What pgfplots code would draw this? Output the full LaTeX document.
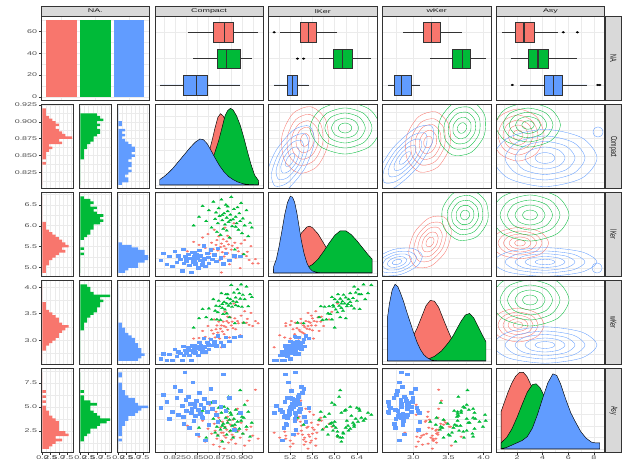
\documentclass[border=0pt]{standalone}
\usepackage{pgfplots}
\pgfplotsset{compat=1.18}
\usepackage{pgfplotstable}
\usepgfplotslibrary{statistics}
\usepackage{fontspec}
\newfontfamily\ggf{Liberation Sans}[FakeStretch=1.65]
\newfontfamily\ggr{Liberation Sans}[FakeStretch=0.6]
\newcommand\tickf{\ggf\fontsize{5.4}{6}\selectfont}
\newcommand\rstripf{\ggr\fontsize{8.8}{9}\selectfont}
\definecolor{gRed}{HTML}{F8766D}
\definecolor{gGreen}{HTML}{00BA38}
\definecolor{gBlue}{HTML}{619CFF}
\definecolor{gBorder}{HTML}{333333}
\definecolor{gGrid}{HTML}{EBEBEB}
\definecolor{gStrip}{HTML}{D9D9D9}
\definecolor{gText}{HTML}{4D4D4D}
\definecolor{gStripText}{HTML}{1A1A1A}

\pgfplotstableread{
c L W a
0.839 5.40 2.86 3.10
0.846 5.62 3.04 4.20
0.852 5.55 3.05 2.00
0.856 5.72 3.18 3.60
0.859 5.48 3.07 1.50
0.862 5.80 3.27 2.80
0.864 5.35 3.04 5.20
0.866 5.60 3.19 2.30
0.868 5.45 3.13 1.20
0.869 5.90 3.39 3.30
0.870 5.30 3.06 2.60
0.871 5.55 3.21 4.50
0.872 5.66 3.28 1.80
0.873 5.42 3.15 2.20
0.874 5.75 3.35 3.90
0.875 5.20 3.04 1.00
0.876 5.50 3.22 2.90
0.877 5.58 3.28 1.60
0.878 5.38 3.17 3.50
0.879 5.68 3.35 2.40
0.880 5.52 3.27 0.80
0.880 5.28 3.12 2.10
0.881 5.95 3.53 3.00
0.882 5.46 3.25 1.90
0.883 5.63 3.36 2.70
0.884 5.36 3.20 4.00
0.885 5.56 3.33 1.40
0.886 5.10 3.06 2.50
0.887 5.70 3.43 3.20
0.888 5.44 3.28 1.70
0.889 5.53 3.35 2.20
0.890 5.32 3.23 3.70
0.891 6.05 3.68 2.00
0.892 5.60 3.41 2.90
0.893 5.25 3.21 1.30
0.895 5.48 3.36 4.80
0.896 5.40 3.32 2.60
0.898 5.01 3.10 1.90
0.899 5.58 3.46 3.40
0.901 5.34 3.33 2.30
0.903 5.66 3.54 1.10
0.905 5.29 3.33 2.70
0.906 5.39 3.40 5.61
0.908 5.20 3.29 1.60
0.910 5.52 3.51 3.00
0.912 5.12 3.27 2.10
0.915 5.22 3.36 6.71
0.918 5.12 3.32 1.80
0.877 4.91 2.88 2.40
0.884 5.76 3.44 3.60
}\tRed
\pgfplotstableread{
c L W a
0.846 6.00 3.24 3.50
0.852 6.20 3.41 2.90
0.856 6.45 3.58 4.60
0.860 6.10 3.43 1.90
0.863 6.35 3.59 3.20
0.866 5.95 3.39 5.40
0.868 6.55 3.76 3.80
0.870 6.15 3.55 2.40
0.871 6.30 3.64 4.10
0.872 5.85 3.39 3.00
0.873 6.05 3.52 2.10
0.874 6.40 3.73 4.90
0.875 6.22 3.63 3.60
0.876 5.78 3.38 2.70
0.877 6.60 3.87 4.40
0.878 6.12 3.60 1.50
0.879 5.92 3.49 3.30
0.880 6.28 3.71 5.00
0.881 6.02 3.57 2.90
0.882 6.48 3.85 3.90
0.883 6.18 3.68 4.60
0.883 5.88 3.50 2.20
0.884 6.33 3.78 3.40
0.885 6.08 3.64 6.00
0.886 5.72 3.43 3.70
0.887 6.25 3.76 2.60
0.888 6.66 4.02 4.20
0.889 5.98 3.62 3.10
0.890 6.14 3.72 1.90
0.891 6.38 3.88 3.80
0.892 5.44 3.32 3.20
0.893 6.20 3.79 4.70
0.894 6.05 3.71 2.50
0.895 6.42 3.94 3.50
0.896 5.90 3.63 4.30
0.897 6.28 3.87 2.80
0.898 6.10 3.77 6.66
0.899 6.52 4.03 3.60
0.900 5.82 3.62 4.00
0.901 6.16 3.84 2.30
0.902 5.33 3.33 3.90
0.903 6.00 3.76 5.20
0.905 6.35 3.99 3.00
0.907 5.75 3.63 4.50
0.909 6.06 3.85 2.00
0.911 5.95 3.80 3.40
0.884 6.44 3.85 4.80
0.878 6.24 3.67 3.10
0.887 6.12 3.68 4.40
0.893 5.97 3.65 2.60
}\tGreen
\pgfplotstableread{
c L W a
0.809 5.20 2.67 4.90
0.812 5.35 2.76 6.20
0.816 5.10 2.64 5.50
0.819 5.28 2.75 3.80
0.822 5.05 2.64 4.50
0.825 5.40 2.84 7.00
0.827 5.15 2.72 5.90
0.829 5.30 2.80 4.20
0.831 5.22 2.77 6.60
0.833 4.95 2.65 5.10
0.834 5.45 2.90 4.00
0.835 5.12 2.73 3.30
0.837 5.26 2.82 5.70
0.838 5.18 2.78 4.60
0.840 5.34 2.87 6.00
0.841 5.08 2.74 2.90
0.842 5.24 2.83 5.30
0.843 4.91 2.65 4.40
0.844 5.38 2.91 4.80
0.845 5.16 2.80 7.48
0.846 5.28 2.86 3.60
0.847 5.21 2.83 5.00
0.848 5.11 2.78 4.10
0.849 5.33 2.90 5.60
0.850 5.25 2.87 2.24
0.851 5.02 2.74 4.70
0.852 5.42 2.97 6.40
0.853 5.19 2.85 4.30
0.854 5.30 2.91 5.20
0.856 5.14 2.83 3.90
0.857 5.53 3.05 4.90
0.858 5.23 2.89 5.80
0.859 5.06 2.80 1.64
0.861 5.36 2.97 4.50
0.862 5.27 2.93 5.40
0.863 5.13 2.85 3.20
0.865 5.44 3.03 6.80
0.867 5.22 2.92 4.80
0.869 5.32 2.98 5.50
0.871 5.17 2.91 4.20
0.873 5.48 3.09 3.50
0.876 5.25 2.97 5.00
0.879 5.11 2.91 8.30
0.882 5.35 3.06 4.60
0.886 5.20 2.99 5.90
0.891 5.30 3.07 2.70
0.898 5.28 3.08 4.40
0.836 5.29 2.83 8.46
0.855 5.09 2.80 4.00
0.847 5.37 2.92 5.30
}\tBlue

% histogram counts (bin centre, red, green, blue)
\pgfplotstableread{
ctr r g b
0.8081 0 0 1
0.8119 0 0 3
0.8157 0 0 3
0.8195 0 0 2
0.8233 0 0 3
0.8271 0 0 4
0.8309 0 0 3
0.8347 0 0 4
0.8385 1 0 4
0.8423 0 0 3
0.8461 1 1 4
0.8499 1 1 5
0.8537 1 1 4
0.8575 2 1 5
0.8613 3 2 5
0.8651 2 2 4
0.8689 6 3 3
0.8727 5 4 2
0.8765 9 4 1
0.8803 7 5 2
0.8841 6 6 1
0.8879 5 6 2
0.8917 4 5 0
0.8955 5 6 1
0.8993 4 5 1
0.9031 3 7 0
0.9069 2 6 0
0.9107 1 5 0
0.9145 1 0 0
0.9183 1 0 0
}\hC
\pgfplotstableread{
ctr r g b
4.899 1 0 2
4.960 1 0 3
5.021 1 0 6
5.083 2 0 6
5.144 2 0 8
5.205 3 0 9
5.266 4 0 9
5.328 5 1 8
5.389 7 0 8
5.450 6 1 6
5.511 8 0 4
5.573 7 0 1
5.634 6 0 0
5.695 5 1 0
5.756 4 2 0
5.818 3 3 0
5.879 2 3 0
5.940 1 4 0
6.001 1 4 0
6.063 1 6 0
6.124 0 7 0
6.185 0 6 0
6.246 0 7 0
6.307 0 5 0
6.369 0 4 0
6.430 0 5 0
6.491 0 3 0
6.552 0 4 0
6.614 0 3 0
6.675 0 1 0
}\hL
\pgfplotstableread{
ctr r g b
2.630 0 0 6
2.678 0 0 7
2.727 0 0 8
2.775 0 0 7
2.824 1 0 7
2.872 1 0 6
2.920 2 0 6
2.969 3 0 5
3.017 4 0 5
3.065 5 0 4
3.114 5 0 3
3.162 6 0 2
3.211 7 1 2
3.259 8 1 1
3.307 6 1 1
3.356 5 2 0
3.404 5 2 0
3.452 4 3 0
3.501 3 4 0
3.549 2 5 0
3.597 1 5 0
3.646 1 6 0
3.694 1 6 0
3.743 0 7 0
3.791 0 6 0
3.839 0 9 0
3.888 0 4 0
3.936 0 3 0
3.984 0 3 0
4.033 0 2 0
}\hW
\pgfplotstableread{
ctr r g b
0.765 2 0 0
1.030 3 0 0
1.295 4 0 0
1.561 6 1 1
1.826 4 1 0
2.091 8 2 1
2.356 7 3 1
2.621 5 3 1
2.887 5 5 1
3.152 5 6 2
3.417 5 8 2
3.682 4 9 3
3.948 3 6 3
4.213 2 5 5
4.478 2 4 6
4.743 1 3 7
5.008 1 3 9
5.274 0 5 6
5.539 1 3 5
5.804 0 1 5
6.069 1 1 3
6.335 0 0 2
6.600 1 1 2
6.865 0 0 1
7.130 0 0 1
7.396 0 0 1
7.661 0 0 0
7.926 0 0 0
8.191 0 0 1
8.456 0 0 1
}\hA

\def\Ca{41}\def\Cb{154.8}\def\Cc{268.6}\def\Cd{382.4}\def\Ce{496.2}
\def\Ra{448.5}\def\Rb{360.5}\def\Rc{272.5}\def\Rd{184.5}\def\Re{96.5}

\pgfplotsset{
  gg/.style={scale only axis, anchor=north west, width=108.5pt, height=84.3pt,
    axis line style={draw=none},
    grid=both,
    major grid style={draw=gGrid, line width=0.6pt},
    minor grid style={draw=gGrid, line width=0.3pt},
    tickpos=left, ticklabel pos=left, tick align=outside,
    major tick length=2.2pt, minor tick length=0pt,
    xtick style={draw=none}, ytick style={draw=none},
    xticklabels={}, yticklabels={},
    ticklabel style={font=\tickf, text=gText},
    xticklabel style={inner sep=1pt},
    yticklabel style={inner sep=1.5pt},
    after end axis/.code={\draw[gBorder, line width=0.6pt] (rel axis cs:0,0) rectangle (rel axis cs:1,1);},
  },
  showx/.style={xtick style={draw=gBorder, line width=0.5pt}},
  showy/.style={ytick style={draw=gBorder, line width=0.5pt}},
  hsub/.style={width=32.5pt, xmin=-0.45, xmax=9.45, xtick={0,2.5,5,7.5}, minor xtick={1.25,3.75,6.25,8.75}},
  xC/.style={xmin=0.8026, xmax=0.9238, xtick={0.825,0.85,0.875,0.9}, minor xtick={0.8125,0.8375,0.8625,0.8875,0.9125}},
  yC/.style={ymin=0.8026, ymax=0.9238, ytick={0.825,0.85,0.875,0.9}, minor ytick={0.8125,0.8375,0.8625,0.8875,0.9125}},
  xL/.style={xmin=4.81, xmax=6.764, xtick={5.2,5.6,6.0,6.4}, minor xtick={5.0,5.4,5.8,6.2,6.6}},
  yL/.style={ymin=4.81, ymax=6.764, ytick={5,5.5,6,6.5}, minor ytick={5.25,5.75,6.25,6.75}},
  xW/.style={xmin=2.56, xmax=4.103, xtick={3,3.5,4}, minor xtick={2.75,3.25,3.75}},
  yW/.style={ymin=2.56, ymax=4.103, ytick={3,3.5,4}, minor ytick={2.75,3.25,3.75}},
  xA/.style={xmin=0.38, xmax=8.841, xtick={2,4,6,8}, minor xtick={1,3,5,7}},
  yA/.style={ymin=0.38, ymax=8.841, ytick={2.5,5,7.5}, minor ytick={1.25,3.75,6.25,8.75}},
  yCh/.style={ymin=0.8005, ymax=0.9259, ytick={0.825,0.85,0.875,0.9,0.925}, minor ytick={0.8125,0.8375,0.8625,0.8875,0.9125}},
  yLh/.style={ymin=4.776, ymax=6.798, ytick={5,5.5,6,6.5}, minor ytick={5.25,5.75,6.25,6.75}},
  yWh/.style={ymin=2.533, ymax=4.130, ytick={3,3.5,4}, minor ytick={2.75,3.25,3.75}},
  yAh/.style={ymin=0.234, ymax=8.987, ytick={2.5,5,7.5}, minor ytick={1.25,3.75,6.25,8.75}},
  yD/.style={ymin=-5, ymax=105, ytick={0,30,60,90}, minor ytick={15,45,75}},
  yB/.style={ymin=0.4, ymax=3.6, ytick={1,2,3}, boxplot/draw direction=x, boxplot/box extend=0.75, boxplot/whisker extend=0},
  bx/.style={draw=gBorder, line width=0.5pt, boxplot/every median/.style={line width=1.2pt}},
  outl/.style={only marks, mark=*, color=black, mark size=1.3pt, mark options={yscale=0.65}},
  pR/.style={only marks, mark=*, color=gRed, mark size=1.3pt, mark options={yscale=0.65}},
  pG/.style={only marks, mark=triangle*, color=gGreen, mark size=1.9pt, mark options={yscale=0.65}},
  pB/.style={only marks, mark=square*, color=gBlue, mark size=1.8pt, mark options={yscale=0.65}},
  dens/.style={draw=black, line width=0.45pt},
  cR/.style={gRed, line width=0.35pt, smooth cycle},
  cG/.style={gGreen, line width=0.35pt, smooth cycle},
  cB/.style={gBlue, line width=0.35pt, smooth cycle},
}

\begin{document}
\begin{tikzpicture}
\path[use as bounding box] (0,0) rectangle (622pt,465pt);

% ---------------- strips
\foreach \x/\t in {41/NA., 154.8/Compact, 268.6/lKer, 382.4/wKer, 496.2/Asy}{
  \draw[fill=gStrip, draw=gBorder, line width=0.6pt] (\x pt,448.5pt) rectangle ++(108.5pt,10.5pt);
  \node[font=\tickf, text=gStripText] at ({\x pt+54.25pt},453.9pt) {\t};
}
\foreach \y/\t in {448.5/NA., 360.5/Compact, 272.5/lKer, 184.5/wKer, 96.5/Asy}{
  \draw[fill=gStrip, draw=gBorder, line width=0.6pt] (605pt,\y pt) rectangle ++(16.7pt,-84.3pt);
  \node[font=\rstripf, text=gStripText, rotate=-90] at (613.4pt,{\y pt-42.15pt}) {\t};
}

% ---------------- row 1
\begin{axis}[gg, showy, at={(\Ca pt,\Ra pt)}, xmin=0.4, xmax=3.6, xtick={1,2,3},
  ymin=-3.5, ymax=73.5, ytick={0,20,40,60}, minor ytick={10,30,50,70}, yticklabels={0,20,40,60}]
\addplot[ybar, bar width=0.9, fill=gRed, draw=none] coordinates {(1,70)};
\addplot[ybar, bar width=0.9, fill=gGreen, draw=none] coordinates {(2,70)};
\addplot[ybar, bar width=0.9, fill=gBlue, draw=none] coordinates {(3,70)};
\end{axis}

\begin{axis}[gg, at={(\Cb pt,\Ra pt)}, xC, yB]
\addplot[bx, fill=gRed, boxplot prepared={draw position=3, lower whisker=0.8394, lower quartile=0.8684, median=0.8803, upper quartile=0.8903, upper whisker=0.9182}] coordinates {};
\addplot[bx, fill=gGreen, boxplot prepared={draw position=2, lower whisker=0.8456, lower quartile=0.8724, median=0.8829, upper quartile=0.8986, upper whisker=0.9109}] coordinates {};
\addplot[bx, fill=gBlue, boxplot prepared={draw position=1, lower whisker=0.8087, lower quartile=0.8341, median=0.8494, upper quartile=0.8617, upper whisker=0.8978}] coordinates {};
\end{axis}

\begin{axis}[gg, at={(\Cc pt,\Ra pt)}, xL, yB]
\addplot[bx, fill=gRed, boxplot prepared={draw position=3, lower whisker=5.01, lower quartile=5.38, median=5.53, upper quartile=5.67, upper whisker=6.05}] coordinates {};
\addplot[bx, fill=gGreen, boxplot prepared={draw position=2, lower whisker=5.72, lower quartile=5.97, median=6.14, upper quartile=6.31, upper whisker=6.66}] coordinates {};
\addplot[bx, fill=gBlue, boxplot prepared={draw position=1, lower whisker=4.91, lower quartile=5.14, median=5.24, upper quartile=5.33, upper whisker=5.53}] coordinates {};
\addplot[outl] coordinates {(4.91,3) (5.33,2) (5.44,2)};
\end{axis}

\begin{axis}[gg, at={(\Cd pt,\Ra pt)}, xW, yB]
\addplot[bx, fill=gRed, boxplot prepared={draw position=3, lower whisker=2.857, lower quartile=3.142, median=3.26, upper quartile=3.379, upper whisker=3.688}] coordinates {};
\addplot[bx, fill=gGreen, boxplot prepared={draw position=2, lower whisker=3.237, lower quartile=3.56, median=3.697, upper quartile=3.806, upper whisker=4.03}] coordinates {};
\addplot[bx, fill=gBlue, boxplot prepared={draw position=1, lower whisker=2.644, lower quartile=2.729, median=2.835, upper quartile=2.967, upper whisker=3.095}] coordinates {};
\end{axis}

\begin{axis}[gg, at={(\Ce pt,\Ra pt)}, xA, yB]
\addplot[bx, fill=gRed, boxplot prepared={draw position=3, lower whisker=0.81, lower quartile=1.85, median=2.55, upper quartile=3.33, upper whisker=5.18}] coordinates {};
\addplot[bx, fill=gGreen, boxplot prepared={draw position=2, lower whisker=1.51, lower quartile=2.88, median=3.64, upper quartile=4.44, upper whisker=6.66}] coordinates {};
\addplot[bx, fill=gBlue, boxplot prepared={draw position=1, lower whisker=2.24, lower quartile=4.11, median=4.83, upper quartile=5.54, upper whisker=7.48}] coordinates {};
\addplot[outl] coordinates {(5.61,3) (6.71,3) (1.64,1) (8.30,1) (8.46,1)};
\end{axis}

% ---------------- column 1 histograms
\begin{axis}[gg, hsub, showy, at={(41pt,\Rb pt)}, yCh, yticklabels={0.825,0.850,0.875,0.900,0.925}]
\addplot[xbar, bar width=0.0038, fill=gRed, draw=none] table[x=r, y=ctr]{\hC};
\end{axis}
\begin{axis}[gg, hsub, at={(79pt,\Rb pt)}, yCh]
\addplot[xbar, bar width=0.0038, fill=gGreen, draw=none] table[x=g, y=ctr]{\hC};
\end{axis}
\begin{axis}[gg, hsub, at={(117pt,\Rb pt)}, yCh]
\addplot[xbar, bar width=0.0038, fill=gBlue, draw=none] table[x=b, y=ctr]{\hC};
\end{axis}
\begin{axis}[gg, hsub, showy, at={(41pt,\Rc pt)}, yLh, yticklabels={5.0,5.5,6.0,6.5}]
\addplot[xbar, bar width=0.0612, fill=gRed, draw=none] table[x=r, y=ctr]{\hL};
\end{axis}
\begin{axis}[gg, hsub, at={(79pt,\Rc pt)}, yLh]
\addplot[xbar, bar width=0.0612, fill=gGreen, draw=none] table[x=g, y=ctr]{\hL};
\end{axis}
\begin{axis}[gg, hsub, at={(117pt,\Rc pt)}, yLh]
\addplot[xbar, bar width=0.0612, fill=gBlue, draw=none] table[x=b, y=ctr]{\hL};
\end{axis}
\begin{axis}[gg, hsub, showy, at={(41pt,\Rd pt)}, yWh, yticklabels={3.0,3.5,4.0}]
\addplot[xbar, bar width=0.0484, fill=gRed, draw=none] table[x=r, y=ctr]{\hW};
\end{axis}
\begin{axis}[gg, hsub, at={(79pt,\Rd pt)}, yWh]
\addplot[xbar, bar width=0.0484, fill=gGreen, draw=none] table[x=g, y=ctr]{\hW};
\end{axis}
\begin{axis}[gg, hsub, at={(117pt,\Rd pt)}, yWh]
\addplot[xbar, bar width=0.0484, fill=gBlue, draw=none] table[x=b, y=ctr]{\hW};
\end{axis}
\begin{axis}[gg, hsub, showy, showx, at={(41pt,\Re pt)}, yAh, yticklabels={2.5,5.0,7.5}, xticklabels={0.0,2.5,5.0,7.5}]
\addplot[xbar, bar width=0.2652, fill=gRed, draw=none] table[x=r, y=ctr]{\hA};
\end{axis}
\begin{axis}[gg, hsub, showx, at={(79pt,\Re pt)}, yAh, xticklabels={0.0,2.5,5.0,7.5}]
\addplot[xbar, bar width=0.2652, fill=gGreen, draw=none] table[x=g, y=ctr]{\hA};
\end{axis}
\begin{axis}[gg, hsub, showx, at={(117pt,\Re pt)}, yAh, xticklabels={0.0,2.5,5.0,7.5}]
\addplot[xbar, bar width=0.2652, fill=gBlue, draw=none] table[x=b, y=ctr]{\hA};
\end{axis}

% ---------------- diagonal densities
\begin{axis}[gg, at={(\Cb pt,\Rb pt)}, xC, yD]
\addplot[dens, fill=gRed] coordinates {(0.8081,0.2) (0.82,0.8) (0.83,2) (0.838,4) (0.845,10) (0.852,18) (0.858,28) (0.863,42) (0.867,60) (0.870,75) (0.873,88) (0.876,93) (0.879,90) (0.882,82) (0.886,70) (0.890,58) (0.895,44) (0.900,32) (0.905,20) (0.910,11) (0.915,5) (0.9183,3)} \closedcycle;
\addplot[dens, fill=gGreen] coordinates {(0.8081,0) (0.83,0.3) (0.838,1) (0.845,3) (0.852,8) (0.858,15) (0.864,26) (0.869,40) (0.874,58) (0.878,76) (0.881,90) (0.884,97) (0.887,100) (0.890,98) (0.894,90) (0.898,78) (0.902,62) (0.906,44) (0.910,27) (0.914,13) (0.9183,6)} \closedcycle;
\addplot[dens, fill=gBlue] coordinates {(0.8081,7) (0.813,11) (0.818,16) (0.823,22) (0.828,29) (0.833,36) (0.838,43) (0.843,50) (0.848,56) (0.853,60) (0.857,59) (0.861,54) (0.865,46) (0.870,35) (0.875,25) (0.880,17) (0.885,11) (0.890,7) (0.895,4) (0.900,2) (0.905,0.8) (0.9183,0)} \closedcycle;
\end{axis}

\begin{axis}[gg, at={(\Cc pt,\Rc pt)}, xL, yD]
\addplot[dens, fill=gRed] coordinates {(4.899,5) (5.0,9) (5.1,17) (5.2,28) (5.3,40) (5.4,52) (5.5,60) (5.55,61) (5.6,59) (5.7,51) (5.8,39) (5.9,27) (6.0,16) (6.1,8) (6.2,3.5) (6.3,1.2) (6.4,0.3) (6.675,0)} \closedcycle;
\addplot[dens, fill=gGreen] coordinates {(4.899,0) (5.1,0.3) (5.2,1) (5.3,3) (5.4,5) (5.5,7) (5.6,11) (5.7,18) (5.8,28) (5.9,39) (6.0,49) (6.1,55) (6.2,55) (6.3,50) (6.4,42) (6.5,33) (6.6,24) (6.675,18)} \closedcycle;
\addplot[dens, fill=gBlue] coordinates {(4.899,8) (4.95,18) (5.00,35) (5.05,55) (5.10,76) (5.15,92) (5.20,100) (5.24,99) (5.28,92) (5.32,78) (5.36,60) (5.40,42) (5.45,25) (5.50,13) (5.55,6) (5.60,2.5) (5.70,0.5) (5.8,0) (6.675,0)} \closedcycle;
\end{axis}

\begin{axis}[gg, at={(\Cd pt,\Rd pt)}, xW, yD]
\addplot[dens, fill=gRed] coordinates {(2.63,1) (2.75,4) (2.85,11) (2.95,24) (3.05,42) (3.12,58) (3.18,72) (3.24,79) (3.30,78) (3.36,70) (3.42,56) (3.50,38) (3.58,22) (3.66,11) (3.75,4) (3.85,1) (4.033,0)} \closedcycle;
\addplot[dens, fill=gGreen] coordinates {(2.63,0) (3.1,0.5) (3.2,2) (3.3,6) (3.4,13) (3.5,24) (3.56,32) (3.62,42) (3.68,52) (3.74,60) (3.80,62) (3.86,56) (3.92,45) (3.98,34) (4.033,25)} \closedcycle;
\addplot[dens, fill=gBlue] coordinates {(2.630,55) (2.66,75) (2.70,93) (2.74,100) (2.78,97) (2.82,88) (2.86,78) (2.90,66) (2.95,52) (3.00,38) (3.05,25) (3.10,15) (3.15,8) (3.20,4) (3.25,1.5) (3.3,0.5) (3.4,0) (4.033,0)} \closedcycle;
\end{axis}

\begin{axis}[gg, showx, at={(\Ce pt,\Re pt)}, xA, yD, xticklabels={2,4,6,8}]
\addplot[dens, fill=gRed] coordinates {(0.765,49) (1.0,60) (1.3,74) (1.6,86) (1.9,95) (2.2,100) (2.5,100) (2.8,94) (3.1,83) (3.4,68) (3.7,53) (4.0,40) (4.4,27) (4.8,17) (5.2,11) (5.6,8) (6.0,6) (6.4,4) (6.8,2) (7.2,0.7) (7.6,0.2) (8.456,0)} \closedcycle;
\addplot[dens, fill=gGreen] coordinates {(0.765,8) (1.2,15) (1.6,26) (2.0,41) (2.4,58) (2.8,74) (3.2,84) (3.5,85) (3.8,80) (4.1,70) (4.4,58) (4.8,45) (5.2,36) (5.6,28) (6.0,20) (6.4,12) (6.8,6) (7.2,2) (7.6,0.6) (8.456,0)} \closedcycle;
\addplot[dens, fill=gBlue] coordinates {(0.765,0.5) (1.2,2) (1.6,5) (2.0,8) (2.4,11) (2.8,16) (3.2,27) (3.6,45) (4.0,66) (4.4,86) (4.8,98) (5.1,96) (5.4,85) (5.8,65) (6.2,47) (6.6,34) (7.0,22) (7.4,14) (7.8,9) (8.1,8) (8.456,8)} \closedcycle;
\end{axis}

% ---------------- lower scatter panels
\begin{axis}[gg, at={(\Cb pt,\Rc pt)}, xC, yL]
\addplot[pR] table[x=c, y=L]{\tRed};
\addplot[pG] table[x=c, y=L]{\tGreen};
\addplot[pB] table[x=c, y=L]{\tBlue};
\end{axis}
\begin{axis}[gg, at={(\Cb pt,\Rd pt)}, xC, yW]
\addplot[pR] table[x=c, y=W]{\tRed};
\addplot[pG] table[x=c, y=W]{\tGreen};
\addplot[pB] table[x=c, y=W]{\tBlue};
\end{axis}
\begin{axis}[gg, showx, at={(\Cb pt,\Re pt)}, xC, yA, xticklabels={0.825,0.850,0.875,0.900}]
\addplot[pR] table[x=c, y=a]{\tRed};
\addplot[pG] table[x=c, y=a]{\tGreen};
\addplot[pB] table[x=c, y=a]{\tBlue};
\end{axis}
\begin{axis}[gg, at={(\Cc pt,\Rd pt)}, xL, yW]
\addplot[pR] table[x=L, y=W]{\tRed};
\addplot[pG] table[x=L, y=W]{\tGreen};
\addplot[pB] table[x=L, y=W]{\tBlue};
\end{axis}
\begin{axis}[gg, showx, at={(\Cc pt,\Re pt)}, xL, yA, xticklabels={5.2,5.6,6.0,6.4}]
\addplot[pR] table[x=L, y=a]{\tRed};
\addplot[pG] table[x=L, y=a]{\tGreen};
\addplot[pB] table[x=L, y=a]{\tBlue};
\end{axis}
\begin{axis}[gg, showx, at={(\Cd pt,\Re pt)}, xW, yA, xticklabels={3.0,3.5,4.0}]
\addplot[pR] table[x=W, y=a]{\tRed};
\addplot[pG] table[x=W, y=a]{\tGreen};
\addplot[pB] table[x=W, y=a]{\tBlue};
\end{axis}

% ---------------- upper contour panels
% (2,3): x = lKer, y = Compact
\begin{axis}[gg, at={(\Cc pt,\Rb pt)}, xL, yC]
\addplot[cR] coordinates {(5.571,0.9206) (5.248,0.9108) (5.051,0.8787) (5.098,0.8432) (5.361,0.8250) (5.684,0.8348) (5.881,0.8669) (5.834,0.9024)};
\addplot[cR] coordinates {(5.547,0.9096) (5.298,0.9020) (5.147,0.8773) (5.183,0.8500) (5.385,0.8360) (5.634,0.8436) (5.785,0.8683) (5.749,0.8956)};
\addplot[cR] coordinates {(5.527,0.9004) (5.340,0.8947) (5.226,0.8762) (5.253,0.8557) (5.405,0.8452) (5.592,0.8509) (5.706,0.8694) (5.679,0.8899)};
\addplot[cR] coordinates {(5.507,0.8912) (5.382,0.8874) (5.306,0.8751) (5.324,0.8614) (5.425,0.8544) (5.550,0.8582) (5.626,0.8706) (5.608,0.8842)};
\addplot[cR] coordinates {(5.486,0.8820) (5.424,0.8801) (5.386,0.8739) (5.395,0.8671) (5.446,0.8636) (5.508,0.8655) (5.546,0.8717) (5.537,0.8785)};
\addplot[cG] coordinates {(6.819,0.890) (6.634,0.9165) (6.187,0.9274) (5.740,0.9165) (5.555,0.890) (5.740,0.8635) (6.187,0.8526) (6.634,0.8635)};
\addplot[cG] coordinates {(6.673,0.890) (6.531,0.9104) (6.187,0.9188) (5.843,0.9104) (5.701,0.890) (5.843,0.8696) (6.187,0.8612) (6.531,0.8696)};
\addplot[cG] coordinates {(6.552,0.890) (6.445,0.9053) (6.187,0.9116) (5.929,0.9053) (5.823,0.890) (5.929,0.8747) (6.187,0.8684) (6.445,0.8747)};
\addplot[cG] coordinates {(6.430,0.890) (6.359,0.9002) (6.187,0.9044) (6.015,0.9002) (5.944,0.890) (6.015,0.8798) (6.187,0.8756) (6.359,0.8798)};
\addplot[cG] coordinates {(6.309,0.890) (6.273,0.8951) (6.187,0.8972) (6.101,0.8951) (6.066,0.890) (6.101,0.8849) (6.187,0.8828) (6.273,0.8849)};
\addplot[cB] coordinates {(5.547,0.8926) (5.258,0.8869) (4.932,0.8562) (4.762,0.8183) (4.845,0.7954) (5.134,0.8011) (5.460,0.8318) (5.632,0.8697)};
\addplot[cB] coordinates {(5.466,0.8814) (5.244,0.8770) (4.993,0.8534) (4.862,0.8242) (4.926,0.8067) (5.148,0.8110) (5.399,0.8347) (5.531,0.8638)};
\addplot[cB] coordinates {(5.399,0.8720) (5.232,0.8688) (5.044,0.8510) (4.945,0.8291) (4.993,0.8160) (5.160,0.8192) (5.348,0.8370) (5.447,0.8589)};
\addplot[cB] coordinates {(5.331,0.8627) (5.220,0.8605) (5.095,0.8487) (5.029,0.8341) (5.061,0.8253) (5.172,0.8275) (5.297,0.8393) (5.363,0.8539)};
\addplot[cB] coordinates {(5.264,0.8533) (5.208,0.8523) (5.145,0.8463) (5.112,0.8390) (5.128,0.8347) (5.184,0.8357) (5.247,0.8417) (5.280,0.8490)};
\end{axis}
% (2,4): x = wKer, y = Compact
\begin{axis}[gg, at={(\Cd pt,\Rb pt)}, xW, yC]
\addplot[cR] coordinates {(3.323,0.9132) (3.075,0.9063) (2.905,0.8781) (2.913,0.8451) (3.095,0.8266) (3.343,0.8335) (3.513,0.8617) (3.505,0.8947)};
\addplot[cR] coordinates {(3.297,0.9032) (3.106,0.8979) (2.975,0.8762) (2.981,0.8508) (3.121,0.8366) (3.312,0.8419) (3.443,0.8636) (3.437,0.8890)};
\addplot[cR] coordinates {(3.275,0.8949) (3.132,0.8909) (3.034,0.8746) (3.038,0.8556) (3.143,0.8449) (3.286,0.8489) (3.384,0.8652) (3.380,0.8842)};
\addplot[cR] coordinates {(3.253,0.8866) (3.158,0.8839) (3.092,0.8731) (3.095,0.8603) (3.165,0.8532) (3.260,0.8559) (3.326,0.8667) (3.323,0.8795)};
\addplot[cR] coordinates {(3.231,0.8782) (3.183,0.8769) (3.151,0.8715) (3.152,0.8651) (3.187,0.8616) (3.235,0.8629) (3.267,0.8683) (3.266,0.8747)};
\addplot[cG] coordinates {(3.831,0.9286) (3.570,0.9255) (3.379,0.9016) (3.372,0.8709) (3.553,0.8514) (3.816,0.8545) (4.005,0.8786) (4.012,0.9091)};
\addplot[cG] coordinates {(3.799,0.9197) (3.598,0.9173) (3.451,0.8989) (3.446,0.8753) (3.585,0.8603) (3.787,0.8627) (3.933,0.8812) (3.938,0.9047)};
\addplot[cG] coordinates {(3.772,0.9123) (3.621,0.9105) (3.512,0.8966) (3.508,0.8790) (3.612,0.8677) (3.763,0.8695) (3.873,0.8834) (3.876,0.9010)};
\addplot[cG] coordinates {(3.746,0.9049) (3.645,0.9037) (3.572,0.8944) (3.569,0.8826) (3.639,0.8751) (3.739,0.8763) (3.812,0.8856) (3.815,0.8974)};
\addplot[cG] coordinates {(3.719,0.8974) (3.668,0.8968) (3.632,0.8922) (3.631,0.8863) (3.665,0.8826) (3.716,0.8832) (3.752,0.8878) (3.754,0.8937)};
\addplot[cB] coordinates {(3.262,0.8927) (3.029,0.8895) (2.711,0.8613) (2.492,0.8247) (2.500,0.8011) (2.733,0.8043) (3.051,0.8325) (3.270,0.8691)};
\addplot[cB] coordinates {(3.174,0.8821) (2.995,0.8797) (2.750,0.8580) (2.582,0.8298) (2.588,0.8117) (2.767,0.8141) (3.012,0.8358) (3.180,0.8640)};
\addplot[cB] coordinates {(3.101,0.8733) (2.967,0.8715) (2.783,0.8552) (2.657,0.8341) (2.662,0.8205) (2.795,0.8223) (2.979,0.8386) (3.106,0.8597)};
\addplot[cB] coordinates {(3.027,0.8645) (2.938,0.8633) (2.816,0.8524) (2.731,0.8383) (2.735,0.8293) (2.824,0.8305) (2.946,0.8414) (3.031,0.8555)};
\addplot[cB] coordinates {(2.954,0.8557) (2.910,0.8551) (2.848,0.8497) (2.806,0.8426) (2.808,0.8381) (2.852,0.8387) (2.914,0.8441) (2.956,0.8512)};
\end{axis}
% (2,5): x = Asy, y = Compact
\begin{axis}[gg, at={(\Ce pt,\Rb pt)}, xA, yC]
\addplot[cR] coordinates {(4.108,0.8799) (3.514,0.9063) (2.080,0.9173) (0.646,0.9063) (0.052,0.8799) (0.646,0.8535) (2.080,0.8425) (3.514,0.8535)};
\addplot[cR] coordinates {(3.640,0.8799) (3.183,0.9002) (2.080,0.9087) (0.977,0.9002) (0.520,0.8799) (0.977,0.8596) (2.080,0.8511) (3.183,0.8596)};
\addplot[cR] coordinates {(3.250,0.8799) (2.907,0.8952) (2.080,0.9015) (1.253,0.8952) (0.910,0.8799) (1.253,0.8646) (2.080,0.8583) (2.907,0.8646)};
\addplot[cR] coordinates {(2.860,0.8799) (2.631,0.8901) (2.080,0.8943) (1.529,0.8901) (1.300,0.8799) (1.529,0.8697) (2.080,0.8655) (2.631,0.8697)};
\addplot[cR] coordinates {(2.470,0.8799) (2.356,0.8850) (2.080,0.8871) (1.804,0.8850) (1.690,0.8799) (1.804,0.8748) (2.080,0.8727) (2.356,0.8748)};
\addplot[cG] coordinates {(5.395,0.8943) (4.652,0.9168) (2.860,0.9261) (1.068,0.9168) (0.325,0.8943) (1.068,0.8718) (2.860,0.8625) (4.652,0.8718)};
\addplot[cG] coordinates {(4.810,0.8943) (4.239,0.9116) (2.860,0.9187) (1.481,0.9116) (0.910,0.8943) (1.481,0.8770) (2.860,0.8699) (4.239,0.8770)};
\addplot[cG] coordinates {(4.323,0.8943) (3.894,0.9073) (2.860,0.9126) (1.826,0.9073) (1.398,0.8943) (1.826,0.8813) (2.860,0.8760) (3.894,0.8813)};
\addplot[cG] coordinates {(3.835,0.8943) (3.549,0.9029) (2.860,0.9065) (2.171,0.9029) (1.885,0.8943) (2.171,0.8857) (2.860,0.8821) (3.549,0.8857)};
\addplot[cG] coordinates {(3.348,0.8943) (3.205,0.8986) (2.860,0.9004) (2.515,0.8986) (2.373,0.8943) (2.515,0.8900) (2.860,0.8882) (3.205,0.8900)};
\addplot[cB] coordinates {(8.243,0.8469) (7.055,0.8760) (4.187,0.8880) (1.319,0.8760) (0.131,0.8469) (1.319,0.8178) (4.187,0.8058) (7.055,0.8178)};
\addplot[cB] coordinates {(7.307,0.8469) (6.393,0.8692) (4.187,0.8785) (1.981,0.8692) (1.067,0.8469) (1.981,0.8246) (4.187,0.8153) (6.393,0.8246)};
\addplot[cB] coordinates {(6.527,0.8469) (5.841,0.8637) (4.187,0.8706) (2.533,0.8637) (1.847,0.8469) (2.533,0.8301) (4.187,0.8232) (5.841,0.8301)};
\addplot[cB] coordinates {(5.747,0.8469) (5.290,0.8581) (4.187,0.8627) (3.084,0.8581) (2.627,0.8469) (3.084,0.8357) (4.187,0.8311) (5.290,0.8357)};
\addplot[cB] coordinates {(4.967,0.8469) (4.738,0.8525) (4.187,0.8548) (3.636,0.8525) (3.407,0.8469) (3.636,0.8413) (4.187,0.8390) (4.738,0.8413)};
\addplot[cB] coordinates {(8.711,0.8843) (8.597,0.8894) (8.321,0.8915) (8.045,0.8894) (7.931,0.8843) (8.045,0.8792) (8.321,0.8771) (8.597,0.8792)};
\end{axis}
% (3,4): x = wKer, y = lKer
\begin{axis}[gg, at={(\Cd pt,\Rc pt)}, xW, yL]
\addplot[cR] coordinates {(3.441,6.192) (3.223,6.172) (3.013,5.828) (2.934,5.361) (3.034,5.042) (3.251,5.062) (3.462,5.406) (3.540,5.874)};
\addplot[cR] coordinates {(3.394,6.059) (3.226,6.044) (3.065,5.779) (3.004,5.420) (3.081,5.175) (3.248,5.190) (3.410,5.455) (3.470,5.815)};
\addplot[cR] coordinates {(3.354,5.948) (3.229,5.937) (3.108,5.739) (3.063,5.469) (3.120,5.286) (3.246,5.297) (3.366,5.495) (3.412,5.765)};
\addplot[cR] coordinates {(3.315,5.838) (3.231,5.831) (3.151,5.698) (3.121,5.518) (3.159,5.396) (3.243,5.404) (3.323,5.536) (3.353,5.716)};
\addplot[cR] coordinates {(3.276,5.727) (3.234,5.724) (3.194,5.658) (3.179,5.568) (3.198,5.507) (3.240,5.510) (3.280,5.576) (3.295,5.666)};
\addplot[cG] coordinates {(3.831,6.824) (3.575,6.753) (3.414,6.382) (3.440,5.930) (3.639,5.660) (3.895,5.731) (4.056,6.102) (4.030,6.554)};
\addplot[cG] coordinates {(3.809,6.690) (3.612,6.635) (3.488,6.350) (3.508,6.002) (3.661,5.794) (3.858,5.849) (3.982,6.134) (3.962,6.482)};
\addplot[cG] coordinates {(3.790,6.578) (3.643,6.537) (3.550,6.323) (3.565,6.062) (3.680,5.906) (3.827,5.947) (3.921,6.161) (3.905,6.422)};
\addplot[cG] coordinates {(3.772,6.466) (3.674,6.439) (3.611,6.296) (3.622,6.122) (3.698,6.018) (3.797,6.046) (3.859,6.188) (3.849,6.362)};
\addplot[cG] coordinates {(3.753,6.354) (3.704,6.340) (3.673,6.269) (3.678,6.182) (3.717,6.130) (3.766,6.144) (3.797,6.215) (3.792,6.302)};
\addplot[cB] coordinates {(3.126,5.309) (2.986,5.469) (2.720,5.444) (2.482,5.249) (2.410,4.997) (2.550,4.837) (2.816,4.862) (3.054,5.058)};
\addplot[cB] coordinates {(3.043,5.273) (2.936,5.396) (2.731,5.377) (2.548,5.227) (2.493,5.033) (2.600,4.910) (2.805,4.929) (2.988,5.080)};
\addplot[cB] coordinates {(2.974,5.243) (2.894,5.335) (2.740,5.321) (2.603,5.208) (2.562,5.063) (2.642,4.971) (2.796,4.985) (2.933,5.098)};
\addplot[cB] coordinates {(2.905,5.213) (2.852,5.275) (2.750,5.265) (2.658,5.190) (2.631,5.093) (2.684,5.031) (2.786,5.041) (2.878,5.116)};
\addplot[cB] coordinates {(2.837,5.183) (2.810,5.214) (2.759,5.209) (2.713,5.171) (2.699,5.123) (2.726,5.092) (2.777,5.097) (2.823,5.135)};
\end{axis}
% (3,5): x = Asy, y = lKer
\begin{axis}[gg, at={(\Ce pt,\Rc pt)}, xA, yL]
\addplot[cR] coordinates {(4.467,5.593) (3.813,5.849) (2.236,5.955) (0.659,5.849) (0.005,5.593) (0.659,5.337) (2.236,5.231) (3.813,5.337)};
\addplot[cR] coordinates {(3.952,5.593) (3.449,5.790) (2.236,5.871) (1.023,5.790) (0.520,5.593) (1.023,5.396) (2.236,5.315) (3.449,5.396)};
\addplot[cR] coordinates {(3.523,5.593) (3.146,5.741) (2.236,5.802) (1.326,5.741) (0.949,5.593) (1.326,5.446) (2.236,5.384) (3.146,5.446)};
\addplot[cR] coordinates {(3.094,5.593) (2.843,5.691) (2.236,5.732) (1.629,5.691) (1.378,5.593) (1.629,5.495) (2.236,5.454) (2.843,5.495)};
\addplot[cR] coordinates {(2.665,5.593) (2.539,5.642) (2.236,5.663) (1.933,5.642) (1.807,5.593) (1.933,5.544) (2.236,5.523) (2.539,5.544)};
\addplot[cG] coordinates {(6.059,6.242) (5.168,6.668) (3.017,6.845) (0.866,6.668) (-0.025,6.242) (0.866,5.816) (3.017,5.639) (5.168,5.816)};
\addplot[cG] coordinates {(5.357,6.242) (4.671,6.570) (3.017,6.706) (1.363,6.570) (0.677,6.242) (1.363,5.914) (3.017,5.778) (4.671,5.914)};
\addplot[cG] coordinates {(4.772,6.242) (4.258,6.488) (3.017,6.590) (1.776,6.488) (1.262,6.242) (1.776,5.996) (3.017,5.894) (4.258,5.996)};
\addplot[cG] coordinates {(4.187,6.242) (3.844,6.406) (3.017,6.474) (2.190,6.406) (1.847,6.242) (2.190,6.078) (3.017,6.010) (3.844,6.078)};
\addplot[cG] coordinates {(3.602,6.242) (3.431,6.324) (3.017,6.358) (2.603,6.324) (2.432,6.242) (2.603,6.160) (3.017,6.126) (3.431,6.160)};
\addplot[cB] coordinates {(8.243,5.153) (7.055,5.387) (4.187,5.485) (1.319,5.387) (0.131,5.153) (1.319,4.919) (4.187,4.821) (7.055,4.919)};
\addplot[cB] coordinates {(7.307,5.153) (6.393,5.333) (4.187,5.408) (1.981,5.333) (1.067,5.153) (1.981,4.973) (4.187,4.898) (6.393,4.973)};
\addplot[cB] coordinates {(6.527,5.153) (5.841,5.288) (4.187,5.344) (2.533,5.288) (1.847,5.153) (2.533,5.018) (4.187,4.962) (5.841,5.018)};
\addplot[cB] coordinates {(5.747,5.153) (5.290,5.243) (4.187,5.281) (3.084,5.243) (2.627,5.153) (3.084,5.063) (4.187,5.026) (5.290,5.063)};
\addplot[cB] coordinates {(4.967,5.153) (4.738,5.198) (4.187,5.217) (3.636,5.198) (3.407,5.153) (3.636,5.108) (4.187,5.089) (4.738,5.108)};
\addplot[cB] coordinates {(8.633,5.014) (8.519,5.096) (8.243,5.130) (7.967,5.096) (7.853,5.014) (7.967,4.932) (8.243,4.898) (8.519,4.932)};
\end{axis}
% (4,5): x = Asy, y = wKer
\begin{axis}[gg, at={(\Ce pt,\Rd pt)}, xA, yW]
\addplot[cR] coordinates {(4.108,3.288) (3.514,3.507) (2.080,3.597) (0.646,3.507) (0.052,3.288) (0.646,3.069) (2.080,2.979) (3.514,3.069)};
\addplot[cR] coordinates {(3.640,3.288) (3.183,3.456) (2.080,3.526) (0.977,3.456) (0.520,3.288) (0.977,3.120) (2.080,3.050) (3.183,3.120)};
\addplot[cR] coordinates {(3.250,3.288) (2.907,3.414) (2.080,3.467) (1.253,3.414) (0.910,3.288) (1.253,3.162) (2.080,3.110) (2.907,3.162)};
\addplot[cR] coordinates {(2.860,3.288) (2.631,3.372) (2.080,3.407) (1.529,3.372) (1.300,3.288) (1.529,3.204) (2.080,3.169) (2.631,3.204)};
\addplot[cR] coordinates {(2.470,3.288) (2.356,3.330) (2.080,3.348) (1.804,3.330) (1.690,3.288) (1.804,3.246) (2.080,3.229) (2.356,3.246)};
\addplot[cG] coordinates {(6.059,3.746) (5.168,4.083) (3.017,4.222) (0.866,4.083) (-0.025,3.746) (0.866,3.410) (3.017,3.270) (5.168,3.410)};
\addplot[cG] coordinates {(5.357,3.746) (4.671,4.005) (3.017,4.112) (1.363,4.005) (0.677,3.746) (1.363,3.487) (3.017,3.380) (4.671,3.487)};
\addplot[cG] coordinates {(4.772,3.746) (4.258,3.940) (3.017,4.021) (1.776,3.940) (1.262,3.746) (1.776,3.552) (3.017,3.471) (4.258,3.552)};
\addplot[cG] coordinates {(4.187,3.746) (3.844,3.875) (3.017,3.929) (2.190,3.875) (1.847,3.746) (2.190,3.617) (3.017,3.563) (3.844,3.617)};
\addplot[cG] coordinates {(3.602,3.746) (3.431,3.811) (3.017,3.838) (2.603,3.811) (2.432,3.746) (2.603,3.681) (3.017,3.655) (3.431,3.681)};
\addplot[cB] coordinates {(8.243,2.922) (7.055,3.158) (4.187,3.255) (1.319,3.158) (0.131,2.922) (1.319,2.686) (4.187,2.589) (7.055,2.686)};
\addplot[cB] coordinates {(7.307,2.922) (6.393,3.103) (4.187,3.178) (1.981,3.103) (1.067,2.922) (1.981,2.741) (4.187,2.666) (6.393,2.741)};
\addplot[cB] coordinates {(6.527,2.922) (5.841,3.058) (4.187,3.114) (2.533,3.058) (1.847,2.922) (2.533,2.786) (4.187,2.730) (5.841,2.786)};
\addplot[cB] coordinates {(5.747,2.922) (5.290,3.013) (4.187,3.050) (3.084,3.013) (2.627,2.922) (3.084,2.831) (4.187,2.794) (5.290,2.831)};
\addplot[cB] coordinates {(4.967,2.922) (4.738,2.967) (4.187,2.986) (3.636,2.967) (3.407,2.922) (3.636,2.877) (4.187,2.858) (4.738,2.877)};
\end{axis}
\end{tikzpicture}
\end{document}
